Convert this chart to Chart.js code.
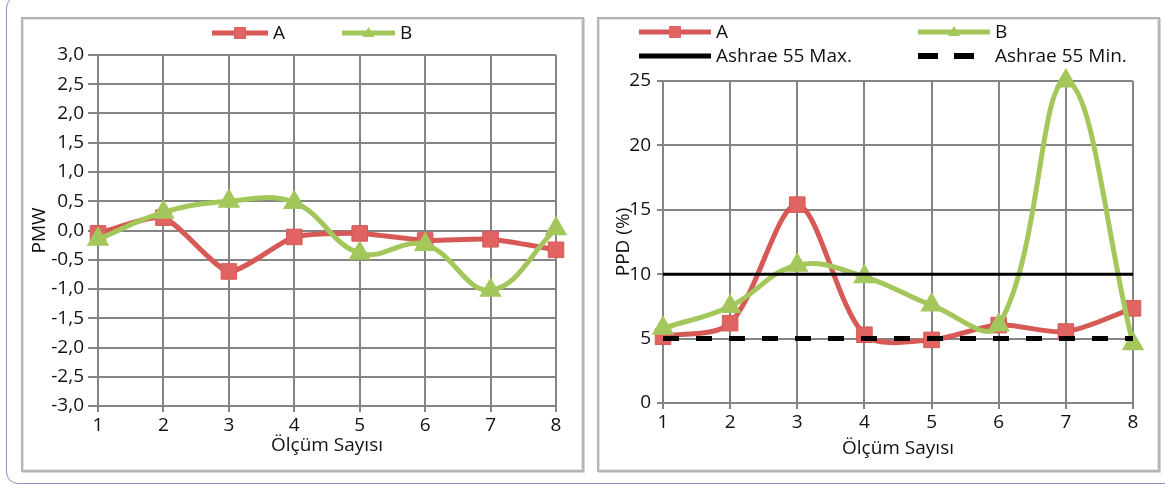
<!DOCTYPE html>
<html>
<head>
<meta charset="utf-8">
<script src="https://cdn.jsdelivr.net/npm/chart.js@4/dist/chart.umd.min.js"></script>
<style>
  body { margin: 0; background: #fff; width: 1165px; height: 488px; overflow: hidden; position: relative; font-family: "Open Sans", sans-serif; }
  .frame { position: absolute; left: 6px; top: -4px; width: 1200px; height: 488px; border: 1.5px solid #a184c2; border-radius: 12px; box-sizing: border-box; }
  .panel { position: absolute; top: 17px; height: 455px; border: 2px solid #b4b4b4; box-shadow: inset 0 0 0 1px #e2e2e2, 1px 1px 0 #d8d8d8; box-sizing: border-box; background: #fff; }
  canvas { position: absolute; }
</style>
</head>
<body>
<div class="frame"></div>
<div class="panel" style="left:21px; width:563px;"></div>
<div class="panel" style="left:597px; width:563px;"></div>
<canvas id="pmwChart" width="556" height="448" style="left:24px; top:20px;"></canvas>
<canvas id="ppdChart" width="557" height="448" style="left:600px; top:20px;"></canvas>
<script>
// Measurement numbers (x axis)
const measurements = ['1', '2', '3', '4', '5', '6', '7', '8'];

// PMW values
const pmwA = [-0.05, 0.22, -0.70, -0.11, -0.05, -0.17, -0.15, -0.33];
const pmwB = [-0.15, 0.31, 0.50, 0.48, -0.39, -0.24, -1.02, 0.03];

// PPD (%) values
const ppdA = [5.15, 6.2, 15.4, 5.3, 4.9, 6.05, 5.55, 7.35];
const ppdB = [5.8, 7.5, 10.7, 9.8, 7.6, 6.05, 25, 4.6];
const ashraeMax = [10, 10, 10, 10, 10, 10, 10, 10];
const ashraeMin = [5, 5, 5, 5, 5, 5, 5, 5];

const redLine = '#d65956';
const redPoint = '#e06462';
const greenLine = '#a3c75b';
const gridColor = '#848484';
const fontFamily = '"Open Sans", sans-serif';

Chart.defaults.font.family = fontFamily;
Chart.defaults.font.size = 19;
Chart.defaults.color = '#111';

// Draws the legend items (line + marker + label) at fixed spots
const customLegend = {
  id: 'customLegend',
  afterDraw(chart, args, opts) {
    const ctx = chart.ctx;
    opts.items.forEach(item => {
      const ds = chart.data.datasets[item.index];
      ctx.save();
      ctx.strokeStyle = ds.borderColor;
      ctx.lineWidth = item.lineWidth || ds.borderWidth;
      ctx.setLineDash(item.dash || []);
      ctx.beginPath();
      ctx.moveTo(item.x, item.y);
      ctx.lineTo(item.x + item.len, item.y);
      ctx.stroke();
      ctx.setLineDash([]);
      const mx = item.x + item.len / 2;
      ctx.fillStyle = ds.pointBackgroundColor;
      if (ds.pointStyle === 'rect' && ds.pointRadius > 0) {
        ctx.fillRect(mx - 6, item.y - 6, 12, 12);
      } else if (ds.pointStyle === 'triangle' && ds.pointRadius > 0) {
        ctx.beginPath();
        ctx.moveTo(mx, item.y - 6);
        ctx.lineTo(mx + 6, item.y + 4);
        ctx.lineTo(mx - 6, item.y + 4);
        ctx.closePath();
        ctx.fill();
      }
      ctx.fillStyle = '#111';
      ctx.font = '19px ' + fontFamily;
      ctx.textBaseline = 'middle';
      ctx.fillText(ds.label, item.x + item.len + 5, item.y + 1);
      ctx.restore();
    });
  }
};

function commaTick(v) {
  return v.toFixed(1).replace('.', ',');
}

// Left chart: PMW
new Chart(document.getElementById('pmwChart'), {
  type: 'line',
  plugins: [customLegend],
  data: {
    labels: measurements,
    datasets: [
      {
        label: 'A',
        data: pmwA,
        borderColor: redLine,
        backgroundColor: redPoint,
        pointBackgroundColor: redPoint,
        pointBorderColor: redLine,
        pointBorderWidth: 1,
        pointStyle: 'rect',
        pointRadius: 11,
        borderWidth: 5,
        tension: 0.2,
        order: 1
      },
      {
        label: 'B',
        data: pmwB,
        borderColor: greenLine,
        backgroundColor: greenLine,
        pointBackgroundColor: greenLine,
        pointBorderColor: greenLine,
        pointStyle: 'triangle',
        pointRadius: 8,
        borderWidth: 5,
        tension: 0.4,
        order: 0
      }
    ]
  },
  options: {
    responsive: false,
    animation: false,
    layout: { padding: { top: 35, right: 24, left: 0, bottom: 0 } },
    plugins: {
      legend: { display: false },
      tooltip: { enabled: false },
      customLegend: {
        items: [
          { index: 0, x: 188, y: 13, len: 56 },
          { index: 1, x: 318, y: 13, len: 53 }
        ]
      }
    },
    scales: {
      x: {
        offset: false,
        grid: { color: gridColor, lineWidth: 2, tickLength: 6 },
        border: { color: gridColor, width: 2 },
        ticks: { padding: 2, color: '#111' },
        title: { display: true, text: 'Ölçüm Sayısı', padding: { top: 0, bottom: 11 }, color: '#111' },
        afterFit: scale => { scale.height = 62; }
      },
      y: {
        min: -3,
        max: 3,
        ticks: { stepSize: 0.5, callback: v => commaTick(v), padding: 4, color: '#111' },
        grid: { color: gridColor, lineWidth: 2, tickLength: 10 },
        border: { color: gridColor, width: 2 },
        title: { display: true, text: 'PMW', padding: { top: 4, bottom: 0 }, color: '#111' },
        afterFit: scale => { scale.width = 74; }
      }
    }
  }
});

// Right chart: PPD (%)
new Chart(document.getElementById('ppdChart'), {
  type: 'line',
  plugins: [customLegend],
  data: {
    labels: measurements,
    datasets: [
      {
        label: 'A',
        data: ppdA,
        borderColor: redLine,
        backgroundColor: redPoint,
        pointBackgroundColor: redPoint,
        pointBorderColor: redLine,
        pointBorderWidth: 1,
        pointStyle: 'rect',
        pointRadius: 11,
        borderWidth: 5,
        tension: 0.3,
        order: 1
      },
      {
        label: 'B',
        data: ppdB,
        borderColor: greenLine,
        backgroundColor: greenLine,
        pointBackgroundColor: greenLine,
        pointBorderColor: greenLine,
        pointStyle: 'triangle',
        pointRadius: 8,
        borderWidth: 5,
        tension: 0.4,
        clip: false,
        order: 0
      },
      {
        label: 'Ashrae 55 Max.',
        data: ashraeMax,
        borderColor: '#000',
        pointBackgroundColor: '#000',
        pointRadius: 0,
        borderWidth: 3,
        order: -1
      },
      {
        label: 'Ashrae 55 Min.',
        data: ashraeMin,
        borderColor: '#000',
        pointBackgroundColor: '#000',
        pointRadius: 0,
        borderWidth: 5,
        borderDash: [16, 17],
        order: -1
      }
    ]
  },
  options: {
    responsive: false,
    animation: false,
    layout: { padding: { top: 61, right: 24, left: 0, bottom: 0 } },
    plugins: {
      legend: { display: false },
      tooltip: { enabled: false },
      customLegend: {
        items: [
          { index: 0, x: 39, y: 12, len: 72 },
          { index: 1, x: 318, y: 12, len: 72 },
          { index: 2, x: 39, y: 36, len: 72, lineWidth: 5 },
          { index: 3, x: 318, y: 36, len: 72, lineWidth: 6, dash: [20, 16] }
        ]
      }
    },
    scales: {
      x: {
        offset: false,
        grid: { color: gridColor, lineWidth: 2, tickLength: 6 },
        border: { color: gridColor, width: 2 },
        ticks: { padding: 2, color: '#111' },
        title: { display: true, text: 'Ölçüm Sayısı', padding: { top: 0, bottom: 8 }, color: '#111' },
        afterFit: scale => { scale.height = 65; }
      },
      y: {
        min: 0,
        max: 25,
        ticks: { stepSize: 5, padding: 6, color: '#111' },
        grid: { color: gridColor, lineWidth: 2, tickLength: 6 },
        border: { color: gridColor, width: 2 },
        title: { display: true, text: 'PPD (%)', padding: { top: 12, bottom: 0 }, color: '#111' },
        afterFit: scale => { scale.width = 63; }
      }
    }
  }
});
</script>
</body>
</html>
